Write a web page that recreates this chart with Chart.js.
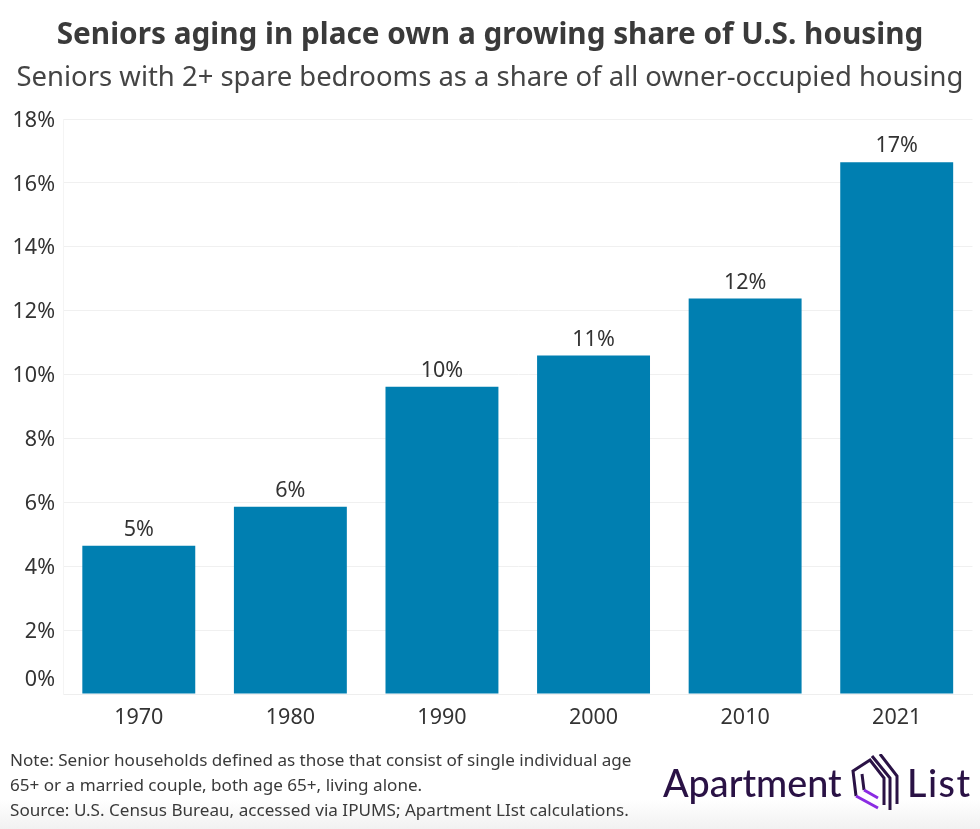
<!DOCTYPE html>
<html><head><meta charset="utf-8">
<script src="https://cdn.jsdelivr.net/npm/chart.js@4/dist/chart.umd.min.js"></script>
<style>
html,body{margin:0;padding:0;background:#fff;}
#wrap{position:relative;width:980px;height:829px;overflow:hidden;background:linear-gradient(to bottom,#fff 0,#fff 800px,#f1f1f1 829px);font-family:"Noto Sans",sans-serif;}
#chartBox{position:absolute;left:0;top:0;width:980px;height:829px;}
.t{position:absolute;white-space:nowrap;color:#333;}
#title{left:0;width:980px;text-align:center;top:12px;font-size:29.75px;font-weight:700;line-height:42px;color:#3a3a3a;}
#sub{left:0;width:980px;text-align:center;top:57px;font-size:27.45px;line-height:38px;color:#444;}
.n{left:10px;font-size:17.1px;line-height:25px;color:#3a3a3a;}
#logoA{left:663px;top:759px;font-size:37.7px;line-height:48px;color:#2a1245;font-family:"Lato",sans-serif;font-weight:500;}
#logoB{left:907px;top:759px;font-size:37.7px;line-height:48px;color:#2a1245;font-family:"Lato",sans-serif;font-weight:500;letter-spacing:1.5px;}
#icon{position:absolute;left:851px;top:754px;}
</style></head>
<body><div id="wrap">
<div id="chartBox"><canvas id="c"></canvas></div>
<div class="t" id="title">Seniors aging in place own a growing share of U.S. housing</div>
<div class="t" id="sub">Seniors with 2+ spare bedrooms as a share of all owner-occupied housing</div>
<div class="t n" style="top:747px">Note: Senior households defined as those that consist of single individual age</div>
<div class="t n" style="top:772px">65+ or a married couple, both age 65+, living alone.</div>
<div class="t n" style="top:797px">Source: U.S. Census Bureau, accessed via IPUMS; Apartment LIst calculations.</div>
<div class="t" id="logoA">Apartment</div>
<svg id="icon" width="50" height="60" viewBox="0 0 50 60" fill="none">
<g stroke="#2a1245" stroke-width="3">
<path d="M5 42 L2 17 L19 6 L33 24 L33 51"/>
<path d="M13 36 L11 20"/>
<path d="M21 2 L39 24 L39 56"/>
<path d="M29 0 L46 22 L46 50"/>
</g>
<path d="M5 42 L27 54 M13 36 L27 44" stroke="#8a2be2" stroke-width="3"/>
</svg>
<div class="t" id="logoB">List</div>
</div>
<script>
const categories = ["1970","1980","1990","2000","2010","2021"];
const shareValues = [4.64,5.86,9.62,10.6,12.38,16.65];
const barLabels = ["5%","6%","10%","11%","12%","17%"];
const tickStep = 2;
const axisMax = 18;

const barLabelPlugin = {
  id:"barLabels",
  afterDatasetsDraw(chart){
    const ctx = chart.ctx, meta = chart.getDatasetMeta(0);
    ctx.save();
    ctx.font = '21.5px "Noto Sans", sans-serif';
    ctx.fillStyle = "#333";
    ctx.textAlign = "center";
    ctx.textBaseline = "middle";
    meta.data.forEach((el,i)=>ctx.fillText(barLabels[i], el.x, el.y-16));
    ctx.restore();
  }
};
const shiftTicks = {
  id:"shiftTicks",
  beforeDraw(chart){
    chart.scales.y.getLabelItems().forEach(it=>{
      if(!it._moved){ it.options.translation[1]+= it.label==="0%" ? -14 : 1.5; it._moved=true; }
    });
  }
};
new Chart(document.getElementById("c"),{
  type:"bar",
  data:{labels:categories,datasets:[{data:shareValues,backgroundColor:"#007fb1",categoryPercentage:1,barPercentage:0.745}]},
  plugins:[barLabelPlugin,shiftTicks],
  options:{
    responsive:true,maintainAspectRatio:false,animation:false,
    layout:{padding:{top:119,right:7.5,left:0,bottom:0}},
    plugins:{legend:{display:false},tooltip:{enabled:false},title:{display:false}},
    scales:{
      x:{
        grid:{display:false,drawTicks:false},
        border:{color:"#eeeeee"},
        afterFit(s){s.height=135;},
        ticks:{padding:11,color:"#333",font:{family:'"Noto Sans", sans-serif',size:21.5},maxRotation:0}
      },
      y:{
        min:0,max:axisMax,
        afterFit(s){s.width=63;},
        grid:{color:"#f0f0f0",drawTicks:false},
        border:{color:"#f4f4f4"},
        ticks:{stepSize:tickStep,padding:8,color:"#333",font:{family:'"Noto Sans", sans-serif',size:21.5},callback:v=>v+"%"}
      }
    }
  }
});
</script>
</body></html>
